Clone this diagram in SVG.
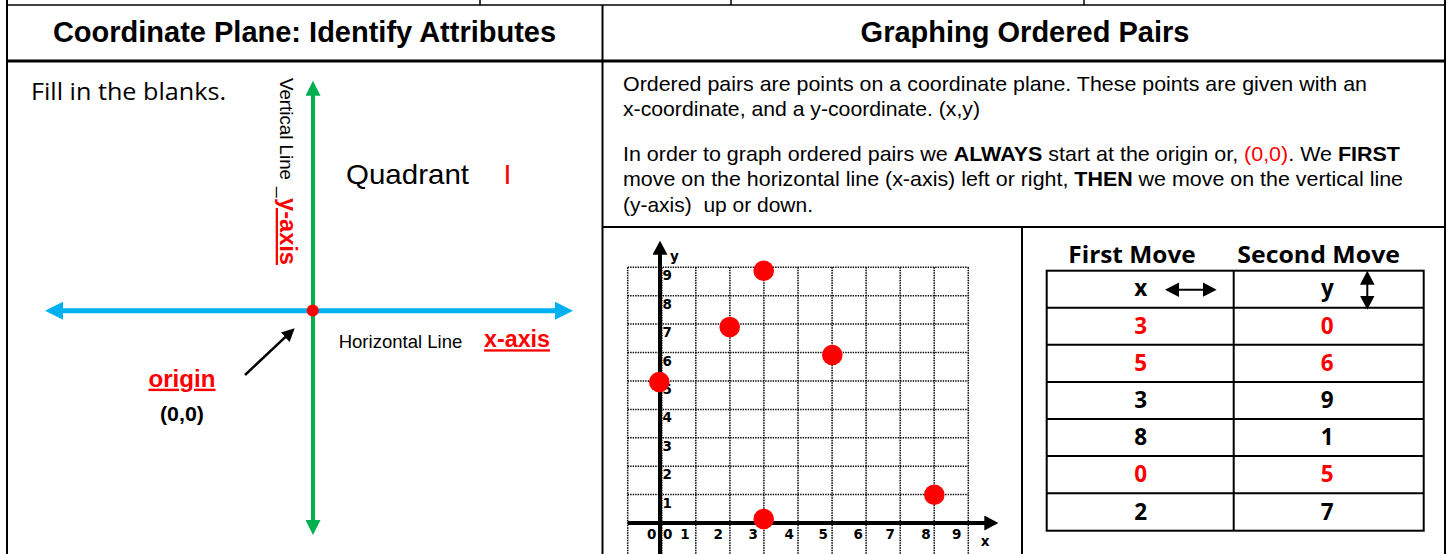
<svg xmlns="http://www.w3.org/2000/svg" width="1450" height="554" viewBox="0 0 1450 554">
<style>
.ar{font-family:"Liberation Sans",Arial,sans-serif}
.hd{font-family:"Liberation Sans",Arial,sans-serif;font-weight:bold;font-size:29px;fill:#000;text-anchor:middle}
.p{font-family:"Liberation Sans",Arial,sans-serif;font-size:21px;fill:#000}
.b{font-weight:bold}
.red{fill:#FF0000}
.cal{font-family:"Open Sans","Noto Sans",sans-serif}
.tnum{font-family:"Open Sans","Noto Sans",sans-serif;font-weight:bold;font-size:22.5px;text-anchor:middle}
.gl{font-family:"DejaVu Sans",sans-serif;font-weight:bold;font-size:13.5px;fill:#000}
.frame{stroke:#000;fill:none}
.grid{stroke:#000;stroke-width:1.5;stroke-dasharray:1.4 1.1;fill:none}
.ul{text-decoration:underline}
</style>
<defs>
<marker id="mBlue" markerUnits="userSpaceOnUse" viewBox="0 0 18 18" markerWidth="18" markerHeight="18" refX="8" refY="9" orient="auto-start-reverse"><path d="M0,0 L18,9 L0,18 z" fill="#00B0F0"/></marker>
<marker id="mGreen" markerUnits="userSpaceOnUse" viewBox="0 0 15 15" markerWidth="15" markerHeight="15" refX="7" refY="7.5" orient="auto-start-reverse"><path d="M0,0 L15,7.5 L0,15 z" fill="#00B050"/></marker>
<marker id="mBlack" markerUnits="userSpaceOnUse" viewBox="0 0 13 13" markerWidth="13" markerHeight="13" refX="7" refY="6.5" orient="auto-start-reverse"><path d="M0,0 L13,6.5 L0,13 z" fill="#000"/></marker>
<marker id="mAxis" markerUnits="userSpaceOnUse" viewBox="0 0 14 15" markerWidth="14" markerHeight="15" refX="7" refY="7.5" orient="auto-start-reverse"><path d="M0,0 L14,7.5 L0,15 z" fill="#000"/></marker>
<marker id="mTbl" markerUnits="userSpaceOnUse" viewBox="0 0 14 14.6" markerWidth="14" markerHeight="14.6" refX="11" refY="7.3" orient="auto-start-reverse"><path d="M0,0 L14,7.3 L0,14.6 z" fill="#000"/></marker>
</defs>
<rect width="1450" height="554" fill="#fff"/>

<g id="frame">
<line class="frame" x1="7" y1="0" x2="7" y2="554" stroke-width="2"/>
<line class="frame" x1="1445" y1="0" x2="1445" y2="554" stroke-width="2"/>
<line class="frame" x1="480" y1="0" x2="480" y2="5" stroke-width="1.5"/>
<line class="frame" x1="731" y1="0" x2="731" y2="5" stroke-width="1.5"/>
<line class="frame" x1="1084" y1="0" x2="1084" y2="5" stroke-width="1.5"/>
<line class="frame" x1="6" y1="5" x2="1446" y2="5" stroke-width="1.6"/>
<line class="frame" x1="6" y1="61" x2="1446" y2="61" stroke-width="3"/>
<line class="frame" x1="602.5" y1="5" x2="602.5" y2="554" stroke-width="2"/>
<line class="frame" x1="602.5" y1="227" x2="1446" y2="227" stroke-width="2"/>
<line class="frame" x1="1022" y1="227" x2="1022" y2="554" stroke-width="2"/>
</g>

<g id="header-left"><text class="hd" x="304.5" y="42">Coordinate Plane: Identify Attributes</text></g>
<g id="header-right"><text class="hd" x="1025" y="42">Graphing Ordered Pairs</text></g>

<g id="instructions"><text class="cal" x="31" y="99.5" font-size="23" textLength="195" lengthAdjust="spacingAndGlyphs">Fill in the blanks.</text></g>

<g id="connectors">
<line x1="55" y1="310.7" x2="563" y2="310.7" stroke="#00B0F0" stroke-width="5" marker-start="url(#mBlue)" marker-end="url(#mBlue)"/>
<line x1="313" y1="88.7" x2="313" y2="527" stroke="#00B050" stroke-width="4" marker-start="url(#mGreen)" marker-end="url(#mGreen)"/>
<line x1="245" y1="375" x2="290.3" y2="332.4" stroke="#000" stroke-width="2.5" marker-end="url(#mBlack)"/>
</g>

<g id="origin-dot"><circle cx="312.7" cy="310.5" r="6" fill="#FF0000"/></g>

<g id="label-vertical">
<text class="ar" transform="translate(280,78) rotate(90)" font-size="19" textLength="102" lengthAdjust="spacingAndGlyphs">Vertical Line</text>
<text class="ar" transform="translate(280,187) rotate(90)" font-size="19">_</text>
<text class="ar b red ul" transform="translate(280,198) rotate(90)" font-size="23" textLength="67" lengthAdjust="spacingAndGlyphs">y-axis</text>
</g>

<g id="label-quadrant">
<text class="ar" x="346" y="184.3" font-size="28.5" textLength="123" lengthAdjust="spacingAndGlyphs">Quadrant</text>
<text class="ar red" x="503.5" y="184.3" font-size="28.5">I</text>
</g>

<g id="label-horizontal">
<text class="ar" x="338.7" y="348.3" font-size="18.5" textLength="123.6" lengthAdjust="spacingAndGlyphs">Horizontal Line</text>
<text class="ar b red ul" x="484" y="347.3" font-size="23" textLength="66" lengthAdjust="spacingAndGlyphs">x-axis</text>
</g>

<g id="label-origin">
<text class="ar b red ul" x="148.5" y="386.7" font-size="24" textLength="67" lengthAdjust="spacingAndGlyphs">origin</text>
<text class="ar b" x="160" y="421" font-size="21" textLength="44" lengthAdjust="spacingAndGlyphs">(0,0)</text>
</g>

<g id="paragraph">
<text class="p" x="623" y="91" textLength="744" lengthAdjust="spacingAndGlyphs">Ordered pairs are points on a coordinate plane. These points are given with an</text>
<text class="p" x="623" y="115.5" textLength="357" lengthAdjust="spacingAndGlyphs">x-coordinate, and a y-coordinate. (x,y)</text>
<text class="p" x="623" y="161" textLength="777" lengthAdjust="spacingAndGlyphs">In order to graph ordered pairs we <tspan class="b">ALWAYS</tspan> start at the origin or, <tspan class="red">(0,0)</tspan>. We <tspan class="b">FIRST</tspan></text>
<text class="p" x="623" y="186" textLength="780" lengthAdjust="spacingAndGlyphs">move on the horizontal line (x-axis) left or right, <tspan class="b">THEN</tspan> we move on the vertical line</text>
<text class="p" x="623" y="212" textLength="190" lengthAdjust="spacingAndGlyphs" style="white-space:pre">(y-axis)  up or down.</text>
</g>

<g id="graph">
<path class="grid" d="M627.7,267.3V554 M661.8,267.3V554 M695.8,267.3V554 M729.9,267.3V554 M763.9,267.3V554 M798,267.3V554 M832.1,267.3V554 M866.1,267.3V554 M900.2,267.3V554 M934.2,267.3V554 M968.3,267.3V554"/>
<path class="grid" d="M627.7,267.3H968.3 M627.7,295.7H968.3 M627.7,324.1H968.3 M627.7,352.5H968.3 M627.7,380.9H968.3 M627.7,409.4H968.3 M627.7,437.8H968.3 M627.7,466.2H968.3 M627.7,494.6H968.3"/>
<line x1="660" y1="554" x2="660" y2="247.7" stroke="#000" stroke-width="4" marker-end="url(#mAxis)"/>
<line x1="627.7" y1="523" x2="991.3" y2="523" stroke="#000" stroke-width="4" marker-end="url(#mAxis)"/>
<text class="gl" x="674.3" y="261" text-anchor="middle" font-size="14">y</text>
<text class="gl" x="985" y="546" text-anchor="middle" font-size="14">x</text>
<g class="gl">
<text x="662.5" y="280.3">9</text>
<text x="662.5" y="308.7">8</text>
<text x="662.5" y="337.1">7</text>
<text x="662.5" y="365.5">6</text>
<text x="662.5" y="393.9">5</text>
<text x="662.5" y="422.4">4</text>
<text x="662.5" y="450.8">3</text>
<text x="662.5" y="479.2">2</text>
<text x="662.5" y="507.6">1</text>
</g>
<g class="gl" text-anchor="middle">
<text x="651.7" y="539">0</text>
<text x="667.7" y="539">0</text>
<text x="685" y="539">1</text>
<text x="718.3" y="539">2</text>
<text x="753.3" y="539">3</text>
<text x="789.3" y="539">4</text>
<text x="823.3" y="539">5</text>
<text x="858.3" y="539">6</text>
<text x="890.3" y="539">7</text>
<text x="926" y="539">8</text>
<text x="956.7" y="539">9</text>
</g>
<g fill="#FF0000">
<circle cx="659.3" cy="382" r="10.3"/>
<circle cx="729.7" cy="327" r="10.3"/>
<circle cx="763.7" cy="270.7" r="10.3"/>
<circle cx="832.3" cy="355" r="10.3"/>
<circle cx="934.3" cy="494.7" r="10.3"/>
<circle cx="763.7" cy="519" r="10.3"/>
</g>
</g>

<g id="moves-table">
<text class="cal b" x="1068.3" y="263" font-size="23.4" textLength="127.4" lengthAdjust="spacingAndGlyphs">First Move</text>
<text class="cal b" x="1237.3" y="263" font-size="23.4" textLength="162.7" lengthAdjust="spacingAndGlyphs">Second Move</text>
<rect x="1046.7" y="270.7" width="377" height="260" fill="none" stroke="#000" stroke-width="2"/>
<path d="M1233.7,270.7V530.7 M1046.7,307.7H1423.7 M1046.7,344.7H1423.7 M1046.7,382H1423.7 M1046.7,419H1423.7 M1046.7,456H1423.7 M1046.7,493.3H1423.7" stroke="#000" stroke-width="2" fill="none"/>
<text class="tnum" x="1140.7" y="296.3">x</text>
<line x1="1168" y1="289.7" x2="1213.7" y2="289.7" stroke="#000" stroke-width="2" marker-start="url(#mTbl)" marker-end="url(#mTbl)"/>
<text class="tnum" x="1327.3" y="296.3">y</text>
<line x1="1367.3" y1="273.7" x2="1367.3" y2="306.7" stroke="#000" stroke-width="2" marker-start="url(#mTbl)" marker-end="url(#mTbl)"/>
<text class="tnum red" x="1140.7" y="334">3</text><text class="tnum red" x="1327.3" y="334">0</text>
<text class="tnum red" x="1140.7" y="370.7">5</text><text class="tnum red" x="1327.3" y="370.7">6</text>
<text class="tnum" x="1140.7" y="408">3</text><text class="tnum" x="1327.3" y="408">9</text>
<text class="tnum" x="1140.7" y="445.3">8</text><text class="tnum" x="1327.3" y="445.3">1</text>
<text class="tnum red" x="1140.7" y="482.3">0</text><text class="tnum red" x="1327.3" y="482.3">5</text>
<text class="tnum" x="1140.7" y="519.7">2</text><text class="tnum" x="1327.3" y="519.7">7</text>
</g>
</svg>
